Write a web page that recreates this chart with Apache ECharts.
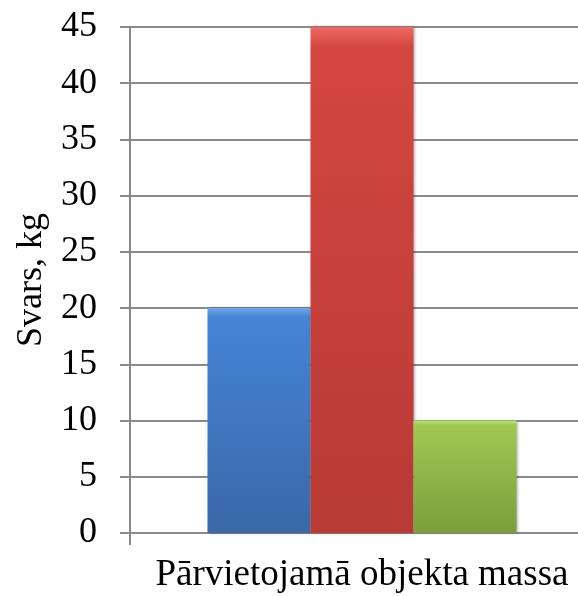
<!DOCTYPE html>
<html>
<head>
<meta charset="utf-8">
<script src="https://cdn.jsdelivr.net/npm/echarts@6/dist/echarts.min.js"></script>
<style>html,body{margin:0;padding:0;background:#fff}#c{width:578px;height:596px}</style>
</head>
<body>
<div id="c"></div>
<script>
const categories = ['Pārvietojamā objekta massa'];
const seriesNames = ['A', 'B', 'C'];
const blueValues = [20];
const redValues = [45];
const greenValues = [10];
const yTicks = { min: 0, max: 45, interval: 5 };

function grad(top, mid, bottom) {
  return new echarts.graphic.LinearGradient(0, 0, 0, 1, [
    { offset: 0, color: top },
    { offset: 0.04, color: mid },
    { offset: 1, color: bottom }
  ]);
}
const font = '"Liberation Serif", "Times New Roman", serif';
const chart = echarts.init(document.getElementById('c'));
const barBase = {
  type: 'bar',
  barWidth: 103,
  barGap: '0%',
  itemStyle: { shadowColor: 'rgba(0,0,0,0.35)', shadowBlur: 3, shadowOffsetX: 1 }
};
chart.setOption({
  animation: false,
  grid: { left: 130, right: -16, top: 27, bottom: 63, containLabel: false, outerBoundsMode: 'none' },
  xAxis: {
    type: 'category',
    data: categories,
    axisLine: { show: true, lineStyle: { color: '#8a8a8a', width: 2 } },
    axisTick: { show: true, length: 12, lineStyle: { color: '#8a8a8a', width: 2 } },
    axisLabel: { fontSize: 37, fontFamily: font, color: '#000', margin: 24 }
  },
  yAxis: {
    type: 'value',
    min: yTicks.min, max: yTicks.max, interval: yTicks.interval,
    name: 'Svars, kg',
    nameLocation: 'middle',
    nameGap: 80,
    nameTextStyle: { fontSize: 36, fontFamily: font, color: '#000' },
    axisLine: { show: true, lineStyle: { color: '#8a8a8a', width: 2 } },
    axisTick: { show: true, length: 10, lineStyle: { color: '#8a8a8a', width: 2 } },
    splitLine: { show: true, lineStyle: { color: '#8a8a8a', width: 2 } },
    axisLabel: { fontSize: 36, fontFamily: font, color: '#000', margin: 33 }
  },
  series: [
    Object.assign({}, barBase, { name: seriesNames[0], data: blueValues,
      itemStyle: Object.assign({}, barBase.itemStyle, { color: grad('#6fa6ea', '#4584d6', '#3a68a8') }) }),
    Object.assign({}, barBase, { name: seriesNames[1], data: redValues,
      itemStyle: Object.assign({}, barBase.itemStyle, { color: grad('#ee6a64', '#d44641', '#b73a35') }) }),
    Object.assign({}, barBase, { name: seriesNames[2], data: greenValues,
      itemStyle: Object.assign({}, barBase.itemStyle, { color: grad('#bce276', '#9fc953', '#7b9e3b') }) })
  ]
});
</script>
</body>
</html>
